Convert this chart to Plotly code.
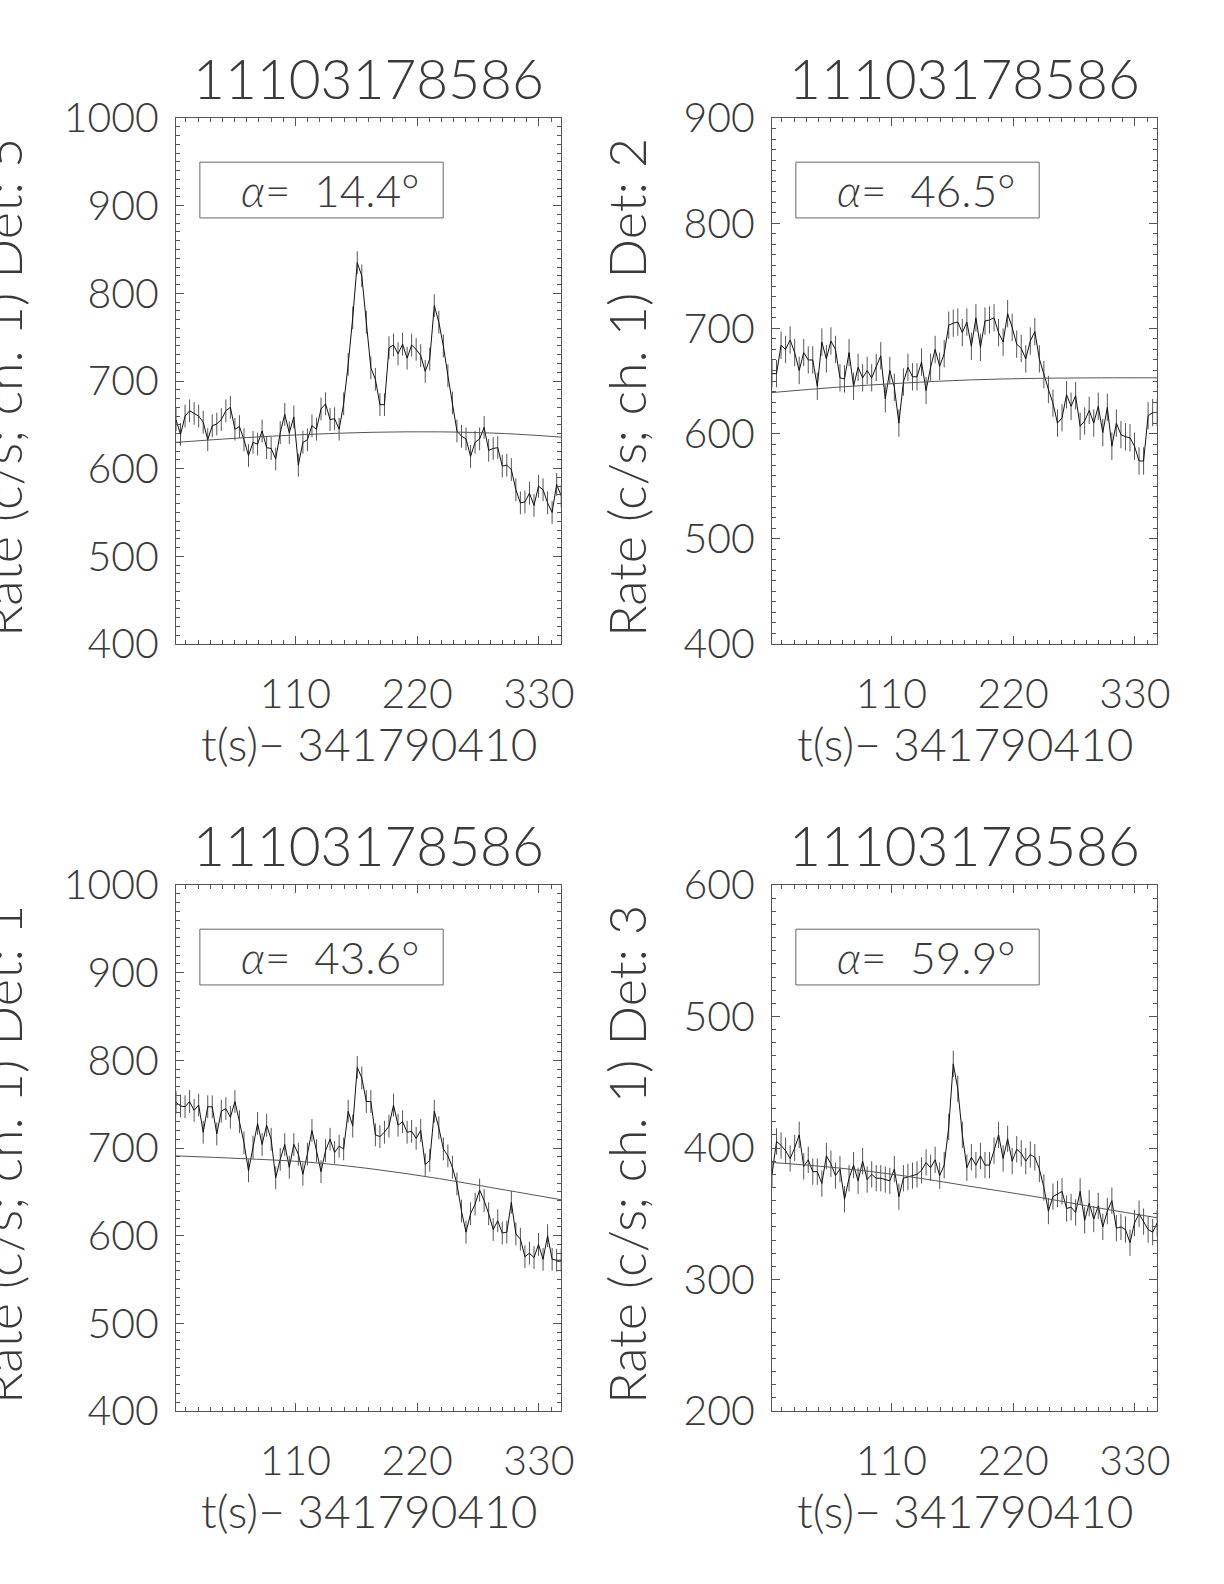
import plotly.graph_objects as go

# ---------------- data ----------------
TITLE = "11103178586"
XTITLE = "t(s)\u2212 341790410"
DETS = [5, 2, 1, 3]
ALPHA = [14.4, 46.5, 43.6, 59.9]

TIME_START = 2.0
BIN = 4.096

RATE_DET5 = [656, 639, 660, 666, 663, 660, 653, 633, 649, 651,
             656, 666, 670, 645, 648, 633, 615, 630, 628, 643,
             624, 623, 611, 641, 662, 641, 659, 604, 630, 633,
             649, 645, 668, 674, 656, 657, 645, 674, 719, 772,
             835, 820, 767, 715, 702, 673, 673, 738, 741, 731,
             742, 726, 741, 736, 729, 711, 725, 786, 767, 740,
             706, 675, 643, 637, 634, 614, 630, 634, 647, 621,
             623, 624, 603, 604, 599, 576, 561, 562, 572, 558,
             580, 576, 561, 550, 582, 569]
RATE_DET2 = [657, 657, 684, 680, 689, 677, 660, 677, 670, 670,
             645, 687, 671, 688, 680, 653, 652, 677, 645, 663,
             653, 660, 653, 663, 674, 633, 660, 644, 610, 649,
             663, 654, 654, 668, 641, 663, 680, 664, 676, 703,
             705, 706, 696, 706, 683, 710, 682, 707, 708, 710,
             696, 687, 714, 701, 685, 681, 671, 688, 697, 671,
             656, 642, 629, 610, 615, 637, 626, 636, 607, 612,
             622, 610, 626, 601, 625, 588, 610, 599, 597, 596,
             588, 574, 574, 617, 620, 620]
RATE_DET1 = [752, 748, 747, 753, 743, 749, 718, 747, 747, 716,
             742, 745, 735, 753, 730, 706, 674, 701, 728, 704,
             726, 710, 666, 687, 704, 678, 704, 693, 670, 693,
             720, 697, 673, 697, 710, 695, 702, 699, 742, 725,
             792, 780, 753, 753, 715, 713, 718, 725, 749, 726,
             730, 718, 719, 711, 720, 681, 686, 742, 723, 699,
             691, 678, 659, 628, 604, 625, 636, 652, 640, 625,
             607, 617, 603, 604, 638, 602, 596, 576, 580, 575,
             590, 573, 600, 573, 572, 572]
RATE_DET3 = [380, 405, 402, 398, 392, 400, 410, 386, 391, 382,
             382, 373, 394, 388, 379, 384, 361, 377, 387, 375,
             390, 376, 380, 377, 377, 376, 375, 384, 363, 377,
             378, 379, 380, 383, 389, 385, 391, 379, 387, 416,
             464, 445, 410, 385, 393, 387, 394, 387, 387, 398,
             410, 392, 407, 390, 399, 396, 390, 395, 393, 384,
             370, 352, 363, 365, 367, 354, 355, 351, 367, 345,
             358, 346, 356, 340, 352, 360, 339, 340, 338, 328,
             343, 350, 344, 338, 336, 343]
RATE_ERR = [13, 13, 13, 10]

BG_T = [2, 60, 120, 180, 240, 300, 350]
BG_DET5 = [630, 635, 639, 641.5, 642, 640, 636]
BG_DET2 = [639, 644, 648, 651, 652.5, 653, 653]
BG_DET1 = [691, 688, 684, 676, 665, 652, 641]
BG_DET3 = [389, 385, 379, 371, 363, 354, 347]

X_RANGE = [2, 350]
X_TICKS = [110, 220, 330]
Y_RANGES = [[400, 1000], [400, 900], [400, 1000], [200, 600]]

RATES = [RATE_DET5, RATE_DET2, RATE_DET1, RATE_DET3]
BGS = [BG_DET5, BG_DET2, BG_DET1, BG_DET3]

# ---------------- layout helpers ----------------
W, H = 1224, 1584
BOXES = [(176, 561, 118, 644), (772, 1157, 118, 644),
         (176, 561, 885, 1411), (772, 1157, 885, 1411)]
FONT = "Lato, DejaVu Sans"
FW = 300
TXT = "#3a3a3a"
AX = "#555555"


def px(x):
    return x / W


def py(y):
    return 1 - y / H


fig = go.Figure()
annotations = []
shapes = []

for k in range(4):
    n = len(RATES[k])
    t = [TIME_START + BIN * i for i in range(n)]
    xa = "x" if k == 0 else f"x{k+1}"
    ya = "y" if k == 0 else f"y{k+1}"
    fig.add_trace(go.Scatter(
        x=t, y=RATES[k], mode="lines",
        line=dict(color="#111111", width=1),
        error_y=dict(type="constant", value=RATE_ERR[k], width=0,
                     thickness=1, color="#555555"),
        xaxis=xa, yaxis=ya, showlegend=False, hoverinfo="skip"))
    fig.add_trace(go.Scatter(
        x=BG_T, y=BGS[k], mode="lines",
        line=dict(color="#555555", width=1, shape="spline"),
        xaxis=xa, yaxis=ya, showlegend=False, hoverinfo="skip"))

    x0, x1, y0, y1 = BOXES[k]
    xkey = "xaxis" if k == 0 else f"xaxis{k+1}"
    ykey = "yaxis" if k == 0 else f"yaxis{k+1}"
    common = dict(ticks="inside", ticklen=8, tickcolor=AX, tickwidth=1,
                  showline=True, linecolor=AX, linewidth=1, mirror="allticks",
                  showgrid=False, zeroline=False, automargin=False,
                  tickfont=dict(family=FONT, size=41, color=TXT, weight=FW))
    fig.layout[xkey] = dict(
        domain=[px(x0), px(x1)], range=X_RANGE, anchor=ya,
        tickmode="array", tickvals=X_TICKS, ticklabelstandoff=14,
        minor=dict(tick0=0, dtick=11, ticks="inside", ticklen=4,
                   tickcolor=AX, showgrid=False),
        **common)
    fig.layout[ykey] = dict(
        domain=[py(y1), py(y0)], range=Y_RANGES[k], anchor=xa,
        tick0=0, dtick=100, ticklabelstandoff=8,
        minor=dict(tick0=0, dtick=10, ticks="inside", ticklen=4,
                   tickcolor=AX, showgrid=False),
        **common)

    cx = (x0 + x1) / 2
    annotations.append(dict(
        text=TITLE, x=px(cx), y=py(y0 - 40), xref="paper", yref="paper",
        xanchor="center", yanchor="middle", showarrow=False,
        font=dict(family=FONT, size=55, color=TXT, weight=FW)))
    annotations.append(dict(
        text=XTITLE, x=px(cx), y=py(y1 + 99), xref="paper", yref="paper",
        xanchor="center", yanchor="middle", showarrow=False,
        font=dict(family=FONT, size=46, color=TXT, weight=FW)))
    ytx = x0 - 174 if Y_RANGES[k][1] >= 1000 else x0 - 146
    annotations.append(dict(
        text=f"Rate (c/s; ch. 1) Det: {DETS[k]}", x=px(ytx),
        y=py((y0 + y1) / 2 + 7), xref="paper", yref="paper",
        xanchor="center", yanchor="middle", textangle=-90, showarrow=False,
        font=dict(family=FONT, size=52, color=TXT, weight=FW)))
    annotations.append(dict(
        text=f"<i>\u03b1</i>=\u00a0\u00a0{ALPHA[k]:.1f}\u00b0",
        x=0.40, y=0.864, xref=f"{xa} domain", yref=f"{ya} domain",
        xanchor="center", yanchor="middle", showarrow=False,
        font=dict(family=FONT, size=44, color=TXT, weight=FW)))
    shapes.append(dict(
        type="rect", xref=f"{xa} domain", yref=f"{ya} domain",
        x0=0.062, x1=0.694, y0=0.810, y1=0.916,
        line=dict(color="#666666", width=1), fillcolor="rgba(0,0,0,0)"))

fig.update_layout(
    width=W, height=H, autosize=False,
    margin=dict(l=0, r=0, t=0, b=0, pad=0),
    paper_bgcolor="white", plot_bgcolor="white",
    annotations=annotations, shapes=shapes, showlegend=False,
    font=dict(family=FONT, color=TXT))

fig.write_html("out.html",
               config={"displayModeBar": False, "responsive": False},
               post_script="document.body.style.margin='0';")
